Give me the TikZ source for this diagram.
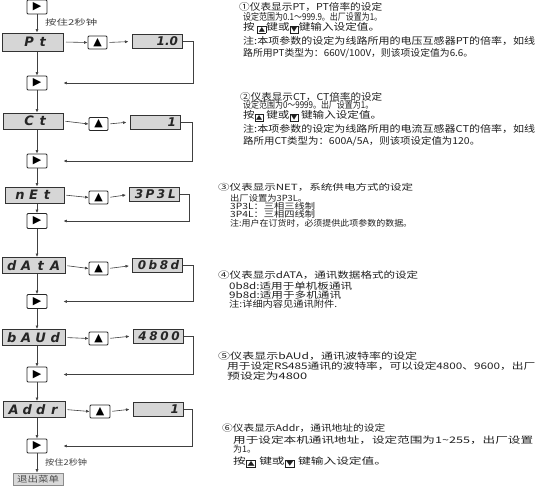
\documentclass[tikz,border=0pt]{standalone}
\usepackage{fontspec}
\usepackage{graphicx}
\newfontfamily\cjk{Noto Sans CJK SC}
\newfontfamily\segfont[BoldFont={DejaVu Sans Bold},ItalicFont={DejaVu Sans Oblique},BoldItalicFont={DejaVu Sans Bold Oblique}]{DejaVu Sans}
\usetikzlibrary{arrows.meta}
\newcommand\fl[2]{\resizebox{#1pt}{\height}{#2}}
\newcommand\cl[1]{\makebox[14.5pt]{#1}}
\newcommand\cn[1]{\makebox[13.5pt]{#1}}
\newcommand\vc[1]{\makebox[11pt]{#1}}
\newcommand\keyup{{\setlength\fboxsep{0.5pt}\setlength\fboxrule{0.7pt}\raisebox{-0.8pt}{\fbox{\segfont\fontsize{6.5}{6.5}\selectfont ▲}}}}
\newcommand\keydn{{\setlength\fboxsep{0.5pt}\setlength\fboxrule{0.7pt}\raisebox{-0.8pt}{\fbox{\segfont\fontsize{6.5}{6.5}\selectfont ▼}}}}
\tikzset{
  ln/.style={draw=black!75, line width=0.6pt},
  arr/.style={ln, -{Latex[length=3.5pt,width=3pt]}},
  disp/.style={draw=black!80, line width=1pt, fill=black!16, inner sep=0pt,
    minimum height=16pt, text=black!85,
    font=\segfont\bfseries\itshape\fontsize{13}{13}\selectfont},
  valb/.style={disp, minimum width=50pt, minimum height=14pt,
    font=\segfont\bfseries\itshape\fontsize{12}{12}\selectfont},
  keyb/.style={draw=black!85, line width=0.8pt, fill=white, rounded corners=1pt,
    minimum width=19pt, minimum height=13pt, inner sep=0pt, text=black,
    font=\segfont\fontsize{11}{11}\selectfont},
  tl/.style={anchor=west, inner sep=0pt, text=black!88},
  fa/.style={font=\cjk\fontsize{9.5}{10}\selectfont},
  fb/.style={font=\cjk\fontsize{8.5}{9}\selectfont},
  fc/.style={font=\cjk\fontsize{9}{9.5}\selectfont},
  lab/.style={anchor=west, inner sep=0pt, text=black!75, font=\cjk\fontsize{8}{8}\selectfont},
}
\begin{document}
\begin{tikzpicture}[x=1pt,y=-1pt]
\useasboundingbox (0,0) rectangle (540,485);

% ---------- left flow ----------
\node[keyb, minimum width=20pt, minimum height=14pt] (b0) at (37,7) {▶};
\node[lab] (h1) at (45,22) {\fl{52}{按住2秒钟}};

\node[disp, minimum width=61pt, minimum height=18pt] (pt) at (33,42) {\makebox[6pt]{}\cn{P}\cn{t}};
\node[keyb] (up1) at (97.5,42.5) {▲};
\node[valb] (v1) at (157,41.5) {\makebox[42pt][r]{1.0}};
\node[keyb, minimum width=20pt, minimum height=14pt] (b1) at (37,83) {▶};

\node[disp, minimum width=60pt] (ct) at (33,121) {\makebox[6pt]{}\cn{C}\cn{t}};
\node[keyb] (up2) at (98.5,124) {▲};
\node[valb] (v2) at (155,122) {\makebox[42pt][r]{1}};
\node[keyb, minimum width=20pt, minimum height=14pt] (b2) at (37,161) {▶};

\node[disp, minimum width=59pt] (net) at (34.5,195) {\cn{n}\cn{E}\cn{t}\makebox[2pt]{}};
\node[keyb] (up3) at (98.5,197.5) {▲};
\node[valb] (v3) at (154.5,194.5) {\makebox[46pt][r]{\vc{3}\vc{P}\vc{3}\vc{L}}};
\node[keyb, minimum width=20pt, minimum height=15pt] (b3) at (37,221) {▶};

\node[disp, minimum width=63pt] (data) at (33.5,265.5) {\cl{d}\cl{A}\cl{t}\cl{A}};
\node[keyb] (up4) at (98.5,268.5) {▲};
\node[valb] (v4) at (157.5,265.5) {\makebox[46pt][r]{\vc{0}\vc{b}\vc{8}\vc{d}}};
\node[keyb, minimum width=20pt, minimum height=14pt] (b4) at (37,301.5) {▶};

\node[disp, minimum width=63pt] (baud) at (33.5,337.5) {\cl{b}\cl{A}\cl{U}\cl{d}};
\node[keyb] (up5) at (98.5,338.5) {▲};
\node[valb] (v5) at (158,336) {\makebox[46pt][r]{\vc{4}\vc{8}\vc{0}\vc{0}}};
\node[keyb, minimum width=20pt, minimum height=15pt] (b5) at (37,374.5) {▶};

\node[disp, minimum width=62pt] (addr) at (34,409.5) {\cn{A}\cn{d}\cn{d}\cn{r}};
\node[keyb, minimum width=20pt] (up6) at (100,411.5) {▲};
\node[valb] (v6) at (158,409) {\makebox[42pt][r]{1}};
\node[keyb, minimum width=20pt, minimum height=14pt] (b6) at (37,446) {▶};
\node[lab] (h2) at (45,462) {\fl{42}{按住2秒钟}};

\node[fill=black!15, draw=black!45, line width=0.6pt, inner sep=0pt, minimum width=50pt,
  minimum height=12pt, text=black!70, font=\cjk\fontsize{8.5}{9}\selectfont] (exit) at (38,479) {\fl{42}{退出菜单}};

% vertical connectors
\draw[arr] (b0.south) -- (b0.south |- pt.north);
\draw[arr] (pt.south -| b1.north) -- (b1.north);
\draw[arr] (b1.south) -- (b1.south |- ct.north);
\draw[arr] (ct.south -| b2.north) -- (b2.north);
\draw[arr] (b2.south) -- (b2.south |- net.north);
\draw[arr] (net.south -| b3.north) -- (b3.north);
\draw[arr] (b3.south) -- (b3.south |- data.north);
\draw[arr] (data.south -| b4.north) -- (b4.north);
\draw[arr] (b4.south) -- (b4.south |- baud.north);
\draw[arr] (baud.south -| b5.north) -- (b5.north);
\draw[arr] (b5.south) -- (b5.south |- addr.north);
\draw[arr] (addr.south -| b6.north) -- (b6.north);
\draw[arr] (b6.south) -- (b6.south |- exit.north);

% horizontal connectors
\foreach \d/\u/\v in {pt/up1/v1, ct/up2/v2, net/up3/v3, data/up4/v4, baud/up5/v5, addr/up6/v6}{
  \draw[arr, shorten <=2pt] (\d.east) -- (\u.west);
  \draw[arr, shorten <=2pt, shorten >=3pt] (\u.east) -- (\v.west);
}
% return connectors
\draw[arr, shorten >=16pt] (v1.east) -- ++(11,0) |- (b1.east);
\draw[arr, shorten >=16pt] (v2.east) -- ++(12,0) |- (b2.east);
\draw[arr, shorten >=16pt] (v3.east) -- ++(9,0) |- (b3.east);
\draw[arr, shorten >=16pt] (v4.east) -- ++(10,0) |- (b4.east);
\draw[arr, shorten >=16pt] (v5.east) -- ++(10,0) |- (b5.east);
\draw[arr, shorten >=16pt] (v6.east) -- ++(9,0) |- (b6.east);

% ---------- right text ----------
\node[tl,fa] (t11) at (239,7) {\fl{143}{①仪表显示PT，PT倍率的设定}};
\node[tl,fa] (t12) at (243,17) {\fl{139}{设定范围为0.1～999.9。出厂设置为1。}};
\node[tl,fa] (t13) at (243,28) {\fl{137}{按 {\keyup}键或{\keydn}键输入设定值。}};
\node[tl,fa] (t14) at (243,41) {\fl{292}{注:本项参数的设定为线路所用的电压互感器PT的倍率，如线}};
\node[tl,fa] (t15) at (243,53) {\fl{230}{路所用PT类型为：660V/100V，则该项设定值为6.6。}};

\node[tl,fa] (t21) at (240,97) {\fl{142}{②仪表显示CT，CT倍率的设定}};
\node[tl,fa] (t22) at (243,105) {\fl{130}{设定范围为0～9999。出厂设置为1。}};
\node[tl,fa] (t23) at (243,116) {\fl{139}{按{\keyup} 键或{\keydn} 键输入设定值。}};
\node[tl,fa] (t24) at (243,129) {\fl{292}{注:本项参数的设定为线路所用的电流互感器CT的倍率，如线}};
\node[tl,fa] (t25) at (243,141) {\fl{237}{路所用CT类型为：600A/5A，则该项设定值为120。}};

\node[tl,fb] (t31) at (218,187) {\fl{195}{③仪表显示NET，系统供电方式的设定}};
\node[tl,fb] (t32) at (230,198) {\fl{77}{出厂设置为3P3L。}};
\node[tl,fb] (t33) at (230,206) {\fl{85}{3P3L：三相三线制}};
\node[tl,fb] (t34) at (230,214) {\fl{85}{3P4L：三相四线制}};
\node[tl,fb] (t35) at (230,223) {\fl{182}{注:用户在订货时，必须提供此项参数的数据。}};

\node[tl,fc] (t41) at (218,275) {\fl{200}{④仪表显示dATA，通讯数据格式的设定}};
\node[tl,fc] (t42) at (229,286) {\fl{123}{0b8d:适用于单机板通讯}};
\node[tl,fc] (t43) at (229,295) {\fl{112}{9b8d:适用于多机通讯}};
\node[tl,fc] (t44) at (229,304) {\fl{108}{注:详细内容见通讯附件.}};

\node[tl,fc] (t51) at (218,356) {\fl{199}{⑤仪表显示bAUd，通讯波特率的设定}};
\node[tl,fc] (t52) at (227,366) {\fl{308}{用于设定RS485通讯的波特率，可以设定4800、9600，出厂}};
\node[tl,fc] (t53) at (227,376) {\fl{80}{预设定为4800}};

\node[tl,fc] (t61) at (222,428) {\fl{163}{⑥仪表显示Addr，通讯地址的设定}};
\node[tl,fc] (t62) at (233,440) {\fl{300}{用于设定本机通讯地址，设定范围为1\textasciitilde255，出厂设置}};
\node[tl,fc] (t63) at (233,449) {为1。};
\node[tl,fc] (t64) at (233,462) {\fl{154}{按{\keyup} 键或{\keydn} 键输入设定值。}};
\end{tikzpicture}
\end{document}
